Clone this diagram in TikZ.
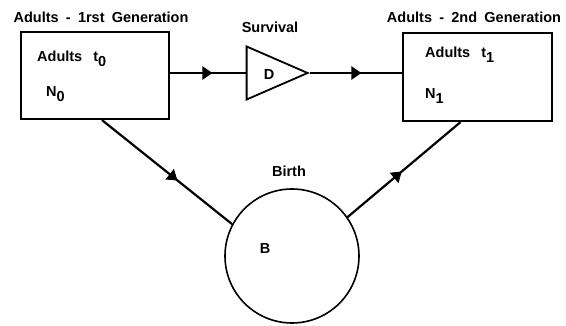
\documentclass[tikz,border=0pt]{standalone}
\usepackage{fontspec}
\setmainfont{Liberation Sans}[WordSpace=1.8]
\usetikzlibrary{arrows.meta,shapes.geometric,decorations.markings}
\newcommand{\lowsub}[1]{\raisebox{-5pt}{#1}}
\tikzset{
  lbl/.style={font=\fontsize{14.5}{17}\selectfont\bfseries, inner sep=0pt},
  genbox/.style={draw, line width=2.2pt, inner sep=0pt},
  flow/.style={line width=2.2pt, postaction={decorate},
    decoration={markings, mark=at position #1 with {\arrow{Triangle[length=10pt,width=13pt]}}}},
  flow/.default=0.55
}
\begin{document}
\begin{tikzpicture}[x=1pt, y=-1pt]
    \useasboundingbox (0,0) rectangle (566,326);
    \node[genbox, minimum width=148pt, minimum height=87pt] (box0) at (95,75.5) {};
    \node[genbox, minimum width=149pt, minimum height=88pt] (box1) at (477.5,77) {};
    \node[draw, line width=1.8pt, isosceles triangle, isosceles triangle stretches,
      minimum width=53pt, minimum height=61pt, inner sep=0pt, anchor=apex] (surv) at (310,73) {};
    \node[draw, circle, line width=1.6pt, minimum size=134pt, inner sep=0pt] (birth) at (292,256) {};
    \node[lbl, anchor=base] (gen0) at (101,23) {Adults - 1rst Generation};
    \node[lbl, anchor=base] (gen1) at (474,23) {Adults - 2nd Generation};
    \node[lbl, anchor=base] (survlbl) at (270,33) {Survival};
    \node[lbl, anchor=base] (birthlbl) at (289,177) {Birth};
    \node[lbl, anchor=base] (d) at (269,80) {D};
    \node[lbl, anchor=base] (b) at (265,254) {B};
    \node[lbl, anchor=base west] (t0) at (37,62) {Adults\hspace{11pt}t\lowsub{0}};
    \node[lbl, anchor=base west] (n0) at (46,97) {N\lowsub{0}};
    \node[lbl, anchor=base west] (t1) at (425,58) {Adults\hspace{11pt}t\lowsub{1}};
    \node[lbl, anchor=base west] (n1) at (425,99) {N\lowsub{1}};
    \draw[flow=0.56] (surv.lower side -| box0.east) -- (surv.lower side);
    \draw[flow=0.56] (surv.apex) -- (surv.apex -| box1.west);
    \draw[flow=0.58] ([xshift=7pt]box0.south) -- (birth.152.7);
    \draw[flow=0.48] (birth.35) -- ([xshift=-17pt]box1.south);
\end{tikzpicture}
\end{document}
